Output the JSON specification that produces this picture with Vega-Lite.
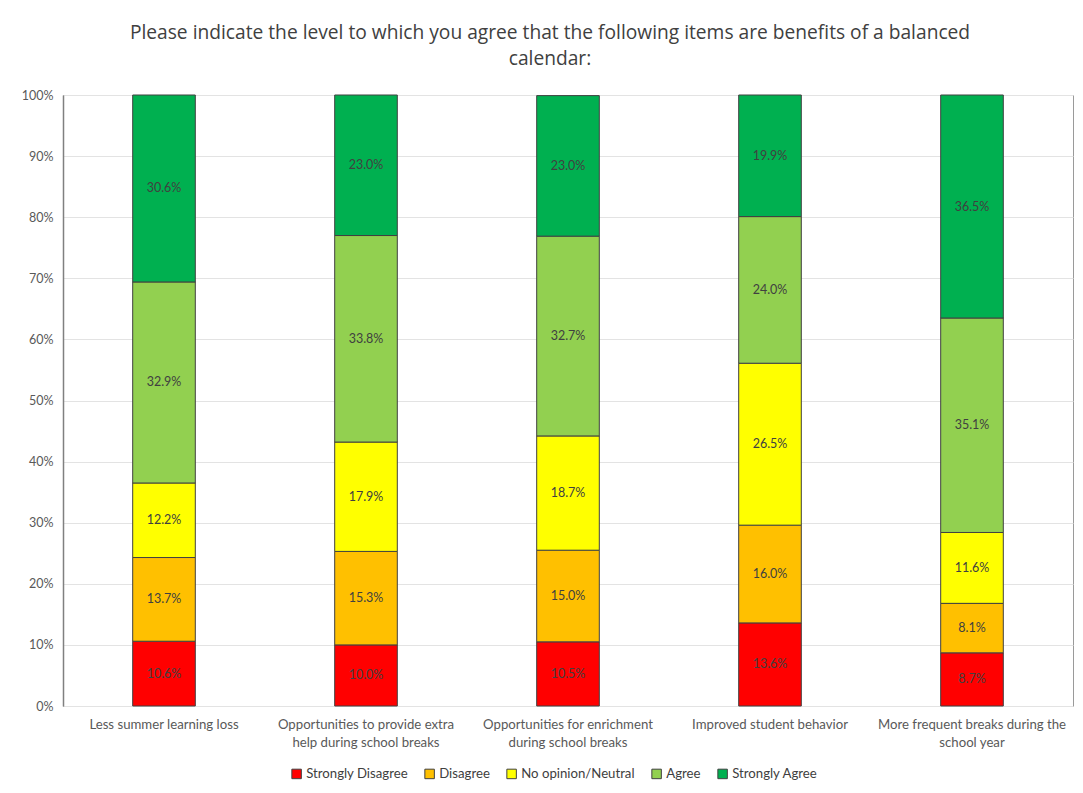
{
  "$schema": "https://vega.github.io/schema/vega-lite/v6.json",
  "autosize": "none",
  "width": 1010,
  "height": 611,
  "padding": {"left": 63, "top": 95, "right": 10, "bottom": 87},
  "background": "white",
  "title": {
    "text": ["Please indicate the level to which you agree that the following items are benefits of a balanced", "calendar:"],
    "font": "Open Sans",
    "fontSize": 19.2,
    "fontWeight": "normal",
    "color": "#404040",
    "lineHeight": 26,
    "offset": 20,
    "dx": -18
  },
  "data": {
    "values": [
      {"item": "Less summer learning loss", "level": "Strongly Disagree", "value": 0.106},
      {"item": "Less summer learning loss", "level": "Disagree", "value": 0.137},
      {"item": "Less summer learning loss", "level": "No opinion/Neutral", "value": 0.122},
      {"item": "Less summer learning loss", "level": "Agree", "value": 0.329},
      {"item": "Less summer learning loss", "level": "Strongly Agree", "value": 0.306},
      {"item": "Opportunities to provide extra help during school breaks", "level": "Strongly Disagree", "value": 0.100},
      {"item": "Opportunities to provide extra help during school breaks", "level": "Disagree", "value": 0.153},
      {"item": "Opportunities to provide extra help during school breaks", "level": "No opinion/Neutral", "value": 0.179},
      {"item": "Opportunities to provide extra help during school breaks", "level": "Agree", "value": 0.338},
      {"item": "Opportunities to provide extra help during school breaks", "level": "Strongly Agree", "value": 0.230},
      {"item": "Opportunities for enrichment during school breaks", "level": "Strongly Disagree", "value": 0.105},
      {"item": "Opportunities for enrichment during school breaks", "level": "Disagree", "value": 0.150},
      {"item": "Opportunities for enrichment during school breaks", "level": "No opinion/Neutral", "value": 0.187},
      {"item": "Opportunities for enrichment during school breaks", "level": "Agree", "value": 0.327},
      {"item": "Opportunities for enrichment during school breaks", "level": "Strongly Agree", "value": 0.230},
      {"item": "Improved student behavior", "level": "Strongly Disagree", "value": 0.136},
      {"item": "Improved student behavior", "level": "Disagree", "value": 0.160},
      {"item": "Improved student behavior", "level": "No opinion/Neutral", "value": 0.265},
      {"item": "Improved student behavior", "level": "Agree", "value": 0.240},
      {"item": "Improved student behavior", "level": "Strongly Agree", "value": 0.199},
      {"item": "More frequent breaks during the school year", "level": "Strongly Disagree", "value": 0.087},
      {"item": "More frequent breaks during the school year", "level": "Disagree", "value": 0.081},
      {"item": "More frequent breaks during the school year", "level": "No opinion/Neutral", "value": 0.116},
      {"item": "More frequent breaks during the school year", "level": "Agree", "value": 0.351},
      {"item": "More frequent breaks during the school year", "level": "Strongly Agree", "value": 0.365}
    ]
  },
  "transform": [
    {"calculate": "indexof(['Strongly Disagree','Disagree','No opinion/Neutral','Agree','Strongly Agree'], datum.level)", "as": "rank"},
    {"stack": "value", "groupby": ["item"], "sort": [{"field": "rank", "order": "ascending"}], "as": ["y0", "y1"]},
    {"calculate": "(datum.y0 + datum.y1) / 2", "as": "ymid"}
  ],
  "encoding": {
    "x": {
      "field": "item",
      "type": "nominal",
      "sort": null,
      "title": null,
      "scale": {"paddingInner": 0.69, "paddingOuter": 0.345},
      "axis": {
        "labelAngle": 0,
        "labelFont": "Lato",
        "labelFontSize": 13.2,
        "labelColor": "#595959",
        "labelPadding": 12,
        "labelLineHeight": 18,
        "labelLimit": 300,
        "ticks": false,
        "domain": false,
        "labelExpr": "datum.label == 'Opportunities to provide extra help during school breaks' ? ['Opportunities to provide extra', 'help during school breaks'] : datum.label == 'Opportunities for enrichment during school breaks' ? ['Opportunities for enrichment', 'during school breaks'] : datum.label == 'More frequent breaks during the school year' ? ['More frequent breaks during the', 'school year'] : datum.label"
      }
    }
  },
  "layer": [
    {
      "mark": {"type": "bar", "stroke": "#404040", "strokeWidth": 1},
      "encoding": {
        "y": {
          "field": "y0",
          "type": "quantitative",
          "scale": {"domain": [0, 1]},
          "title": null,
          "axis": {
            "values": [0, 0.1, 0.2, 0.3, 0.4, 0.5, 0.6, 0.7, 0.8, 0.9, 1],
            "format": ".0%",
            "labelFont": "Lato",
            "labelFontSize": 12.5,
            "labelColor": "#595959",
            "labelPadding": 10,
            "ticks": false,
            "domain": true,
            "domainColor": "#808080",
            "domainWidth": 1.5,
            "grid": true,
            "gridColor": "#e3e3e3",
            "gridWidth": 1
          }
        },
        "y2": {"field": "y1"},
        "color": {
          "field": "level",
          "type": "nominal",
          "scale": {
            "domain": ["Strongly Disagree", "Disagree", "No opinion/Neutral", "Agree", "Strongly Agree"],
            "range": ["#ff0000", "#ffc000", "#ffff00", "#92d050", "#00b050"]
          },
          "legend": {
            "title": null,
            "orient": "none",
            "direction": "horizontal",
            "legendX": 227,
            "legendY": 672,
            "symbolType": "square",
            "symbolSize": 90,
            "symbolStrokeColor": "#404040",
            "symbolStrokeWidth": 1,
            "labelFont": "Lato",
            "labelFontSize": 13.2,
            "labelColor": "#404040",
            "labelOffset": 3,
            "columnPadding": 14
          }
        }
      }
    },
    {
      "mark": {"type": "text", "font": "Lato", "fontSize": 12.5, "color": "#404040"},
      "encoding": {
        "y": {"field": "ymid", "type": "quantitative"},
        "text": {"field": "value", "type": "quantitative", "format": ".1%"}
      }
    }
  ],
  "config": {
    "view": {"stroke": "#9a9a9a", "strokeWidth": 1}
  }
}
